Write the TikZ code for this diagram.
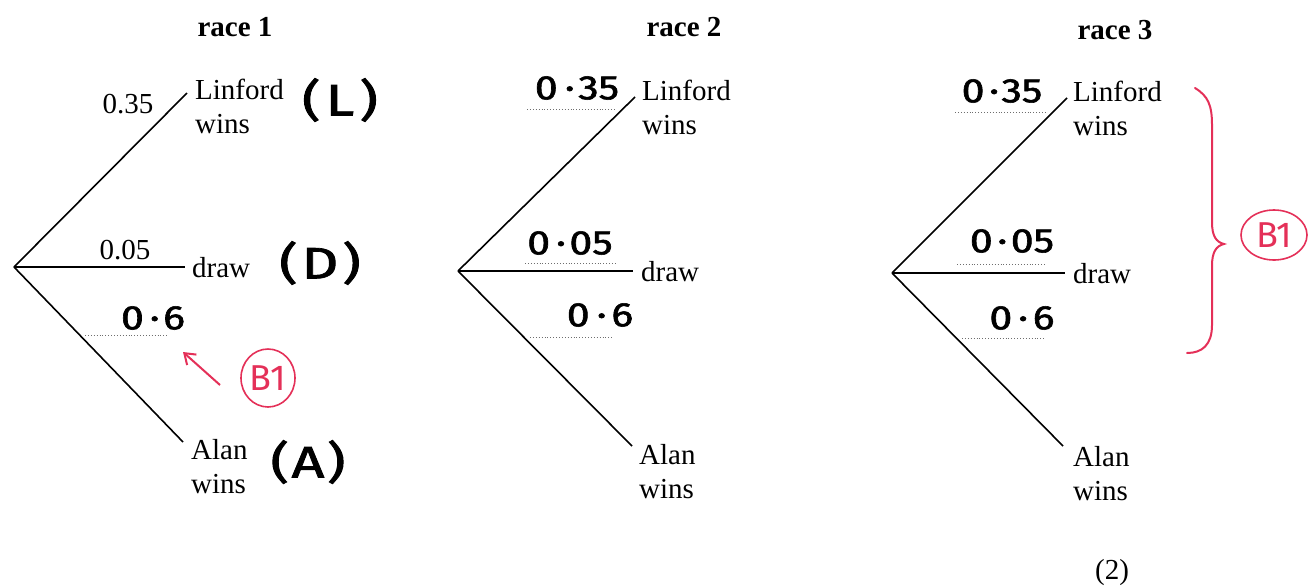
\documentclass[tikz,border=0pt]{standalone}
\usepackage{fontspec}
\setmainfont{Liberation Serif}
\newfontfamily\hwfont[FakeBold=1.6]{Fira Sans}
\newfontfamily\redfont{Fira Sans}
\usetikzlibrary{arrows.meta,shapes.geometric}
\definecolor{markred}{RGB}{228,48,88}
\definecolor{dotgray}{RGB}{110,110,110}
\newcommand{\hw}[2][1.2]{\scalebox{#1}[1]{\hwfont #2}}
\begin{document}
\begin{tikzpicture}[x=1pt,y=-1pt,
  branch/.style={line width=1.6pt},
  lbl/.style={inner sep=0pt, font=\fontsize{29}{34}\selectfont, align=left},
  ttl/.style={inner sep=0pt, font=\fontsize{29}{34}\selectfont\bfseries},
  hand/.style={inner sep=0pt, font=\fontsize{34}{36}\selectfont},
  paren/.style={inner sep=0pt, font=\fontsize{44}{48}\selectfont},
  dotline/.style={dotgray, line width=0.9pt, dotted},
  redmark/.style={markred, line width=2pt},
  bcirc/.style={draw=markred, line width=1.6pt, ellipse, inner sep=0pt, text=markred, font=\fontsize{36}{38}\selectfont\redfont}
]
\useasboundingbox (0,0) rectangle (1311,587);
% ---------- race 1 ----------
\node[ttl] (t1) at (235,27) {race 1};
\coordinate (r1) at (14,267);
\coordinate (l1) at (187,93);
\coordinate (d1) at (185,267);
\coordinate (a1) at (183,442);
\draw[branch] (r1) -- (l1);
\draw[branch] (r1) -- (d1);
\draw[branch] (r1) -- (a1);
\node[lbl, anchor=west] (L1) at (195,106) {Linford\\wins};
\node[lbl, anchor=west] (D1) at (192,268) {draw};
\node[lbl, anchor=west] (A1) at (191,467) {Alan\\wins};
\node[lbl] (p1l) at (128,104) {0.35};
\node[lbl] (p1d) at (125,250) {0.05};
\node[hand] (p1a) at (153,318) {\hw{0\hspace{5pt}·\hspace{3pt}6}};
\coordinate (u1s) at (85,335);
\coordinate (u1e) at (167,335);
\draw[dotline] (u1s) -- (u1e);
\node[paren] (cL) at (340,100) {\hw[1.3]{(\hspace{4pt}L\hspace{4pt})}};
\node[paren] (cD) at (320,263) {\hw[1.3]{(\hspace{3pt}D\hspace{3pt})}};
\node[paren] (cA) at (308,462) {\hw[1.3]{(\hspace{2pt}A\hspace{2pt})}};
\node[bcirc, minimum width=54pt, minimum height=58pt] (B1a) at (268,378) {B1};
\coordinate (arT) at (220,385);
\coordinate (arH) at (183,352);
\draw[redmark, -{Straight Barb[length=10pt,width=14pt,line width=2pt]}] (arT) -- (arH);
% ---------- race 2 ----------
\node[ttl] (t2) at (684,27) {race 2};
\coordinate (r2) at (458,271);
\coordinate (l2) at (635,97);
\coordinate (d2) at (633,271);
\coordinate (a2) at (632,446);
\draw[branch] (r2) -- (l2);
\draw[branch] (r2) -- (d2);
\draw[branch] (r2) -- (a2);
\node[lbl, anchor=west] (L2) at (642,107) {Linford\\wins};
\node[lbl, anchor=west] (D2) at (641,272) {draw};
\node[lbl, anchor=west] (A2) at (639,472) {Alan\\wins};
\node[hand] (p2l) at (577,88) {\hw{0\hspace{6pt}·\hspace{3pt}35}};
\node[hand] (p2d) at (570,243) {\hw{0\hspace{5pt}·\hspace{3pt}05}};
\node[hand] (p2a) at (600,315) {\hw{0\hspace{6pt}·\hspace{4pt}6}};
\coordinate (u2ls) at (527,109); \coordinate (u2le) at (615,109);
\coordinate (u2ds) at (525,263); \coordinate (u2de) at (615,263);
\coordinate (u2as) at (530,337); \coordinate (u2ae) at (612,337);
\draw[dotline] (u2ls) -- (u2le);
\draw[dotline] (u2ds) -- (u2de);
\draw[dotline] (u2as) -- (u2ae);
% ---------- race 3 ----------
\node[ttl] (t3) at (1115,30) {race 3};
\coordinate (r3) at (892,273);
\coordinate (l3) at (1067,98);
\coordinate (d3) at (1065,273);
\coordinate (a3) at (1063,446);
\draw[branch] (r3) -- (l3);
\draw[branch] (r3) -- (d3);
\draw[branch] (r3) -- (a3);
\node[lbl, anchor=west] (L3) at (1073,108) {Linford\\wins};
\node[lbl, anchor=west] (D3) at (1073,274) {draw};
\node[lbl, anchor=west] (A3) at (1073,474) {Alan\\wins};
\node[hand] (p3l) at (1002,91) {\hw{0\hspace{4pt}·\hspace{2pt}35}};
\node[hand] (p3d) at (1012,241) {\hw{0\hspace{4pt}·\hspace{3pt}05}};
\node[hand] (p3a) at (1022,318) {\hw{0\hspace{5pt}·\hspace{4pt}6}};
\coordinate (u3ls) at (955,112); \coordinate (u3le) at (1045,112);
\coordinate (u3ds) at (957,264); \coordinate (u3de) at (1045,264);
\coordinate (u3as) at (962,338); \coordinate (u3ae) at (1045,338);
\draw[dotline] (u3ls) -- (u3le);
\draw[dotline] (u3ds) -- (u3de);
\draw[dotline] (u3as) -- (u3ae);
% red brace
\coordinate (bt) at (1195,88);
\coordinate (bc) at (1224,244);
\coordinate (bb) at (1187,353);
\draw[redmark, line cap=round] (bt) .. controls (1208,96) and (1212,105) .. (1212,125)
  -- (1212,222) .. controls (1212,236) and (1216,242) .. (bc)
  .. controls (1216,246) and (1212,252) .. (1212,266)
  -- (1212,325) .. controls (1212,345) and (1202,353) .. (bb);
\node[bcirc, minimum width=66pt, minimum height=50pt] (B1b) at (1274,235) {B1};
% ---------- marks ----------
\node[lbl] (m2) at (1112,573) {(2)};
\end{tikzpicture}
\end{document}
